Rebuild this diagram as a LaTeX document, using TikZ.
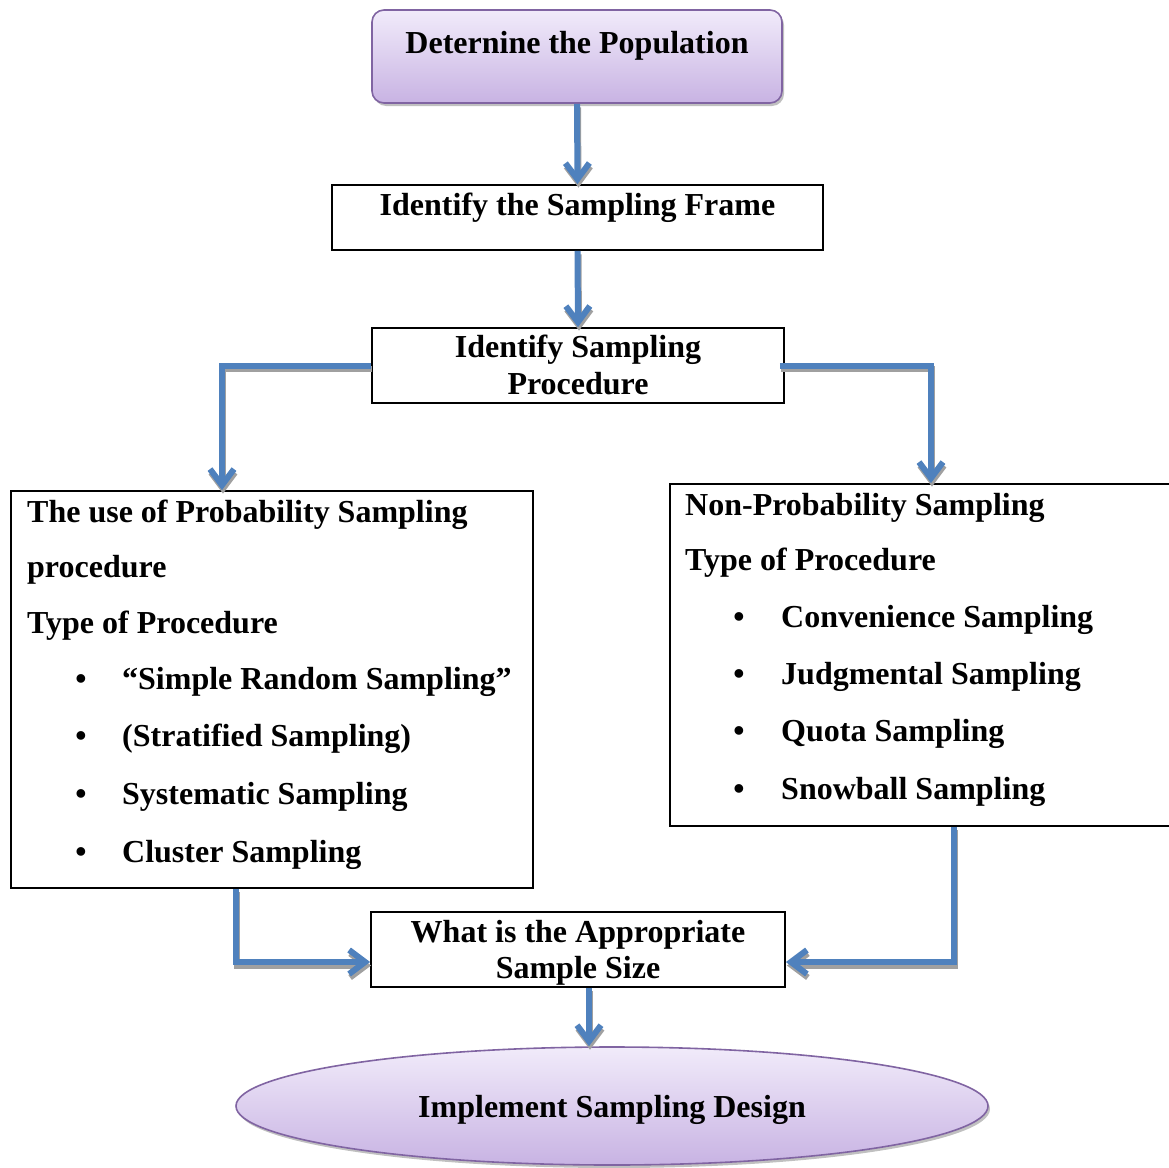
\documentclass[tikz,border=0pt]{standalone}
\usepackage{fontspec}
\setmainfont{Liberation Serif}
\usetikzlibrary{arrows.meta,shadows,shapes.geometric}
\definecolor{flowblue}{HTML}{4F81BD}
\definecolor{edgepurple}{HTML}{8064A2}
\definecolor{lavtop}{HTML}{F1EBFA}
\definecolor{lavbot}{HTML}{C8B3E3}
\definecolor{shadowgray}{HTML}{A0A0A0}
\begin{document}
\begin{tikzpicture}[x=1pt,y=-1pt,
  txt/.style={inner sep=0pt, anchor=base west, font=\fontsize{32}{38}\selectfont\bfseries},
  ctxt/.style={inner sep=0pt, anchor=base, font=\fontsize{32}{38}\selectfont\bfseries},
  plainbox/.style={rectangle, draw=black, line width=1.8pt, inner sep=0pt},
  softbox/.style={draw=edgepurple, line width=1.6pt, inner sep=0pt,
    top color=lavtop, bottom color=lavbot,
    drop shadow={shadow xshift=2pt, shadow yshift=-3pt, fill=black!45, opacity=.55}},
  flowtip/.style={-{Straight Barb[length=16pt,width=24pt]}},
  conn/.style={draw=flowblue, line width=6pt, flowtip},
  connshade/.style={draw=shadowgray, line width=6pt, flowtip,
    transform canvas={shift={(1,3.5)}}},
]
\useasboundingbox (0,0) rectangle (1169,1167);

% boxes
\node[softbox, rounded corners=12pt, minimum width=410pt, minimum height=93pt]
  (pop) at (577,56.5) {};
\node[ctxt] (poptxt) at (577,53) {Deternine the Population};

\node[plainbox, minimum width=491pt, minimum height=65pt] (frame) at (577.5,217.5) {};
\node[ctxt] (frametxt) at (577.5,215) {Identify the Sampling Frame};

\node[plainbox, minimum width=412pt, minimum height=75pt] (proc) at (578,365.5) {};
\node[ctxt] (proctxt1) at (578,357) {Identify Sampling};
\node[ctxt] (proctxt2) at (578,394) {Procedure};

\node[plainbox, minimum width=522pt, minimum height=397pt] (prob) at (272,689.5) {};
\node[plainbox, minimum width=504pt, minimum height=342pt] (nonprob) at (922,655) {};

\node[plainbox, minimum width=414pt, minimum height=75pt] (size) at (578,949.5) {};
\node[ctxt] (sizetxt1) at (578,942) {What is the Appropriate};
\node[ctxt] (sizetxt2) at (578,978) {Sample Size};

\node[softbox, ellipse, minimum width=752pt, minimum height=118pt] (impl) at (612,1106) {};
\node[ctxt] (impltxt) at (612,1117) {Implement Sampling Design};

% probability list
\node[txt] (p1) at (27,522) {The use of Probability Sampling};
\node[txt] (p2) at (27,577) {procedure};
\node[txt] (p3) at (27,633) {Type of Procedure};
\foreach \yy/\lbl [count=\i] in {689/{``Simple Random Sampling''},746/{(Stratified Sampling)},804/{Systematic Sampling},862/{Cluster Sampling}}{
  \node[ctxt] (pb\i) at (81,\yy) {\textbullet};
  \node[txt] (pi\i) at (122,\yy) {\lbl};
}

% non-probability list
\node[txt] (n1) at (685,515) {Non-Probability Sampling};
\node[txt] (n2) at (685,570) {Type of Procedure};
\foreach \yy/\lbl [count=\i] in {627/{Convenience Sampling},684/{Judgmental Sampling},741/{Quota Sampling},799/{Snowball Sampling}}{
  \node[ctxt] (nb\i) at (739,\yy) {\textbullet};
  \node[txt] (ni\i) at (781,\yy) {\lbl};
}

% bend and landing points of the connectors
\coordinate (lx) at (222,0);
\coordinate (rx) at (931,0);
\coordinate (blx) at (236,0);
\coordinate (brx) at (954,0);
\coordinate (by) at (0,962);
\coordinate (ex) at (589,0);

% connectors: grey shadow first, blue line on top
\foreach \sty in {connshade,conn}{
  \draw[\sty] (pop.south) -- (frame.north);
  \draw[\sty] (frame.south) -- (proc.north);
  \draw[\sty] (proc.west) -| (lx |- prob.north);
  \draw[\sty] ([xshift=-5pt]proc.east) -| (rx |- nonprob.north);
  \draw[\sty] (blx |- prob.south) |- (size.west |- by);
  \draw[\sty] (brx |- nonprob.south) |- (size.east |- by);
  \draw[\sty] (ex |- size.south) -- (ex |- impl.north);
}
\end{tikzpicture}
\end{document}
